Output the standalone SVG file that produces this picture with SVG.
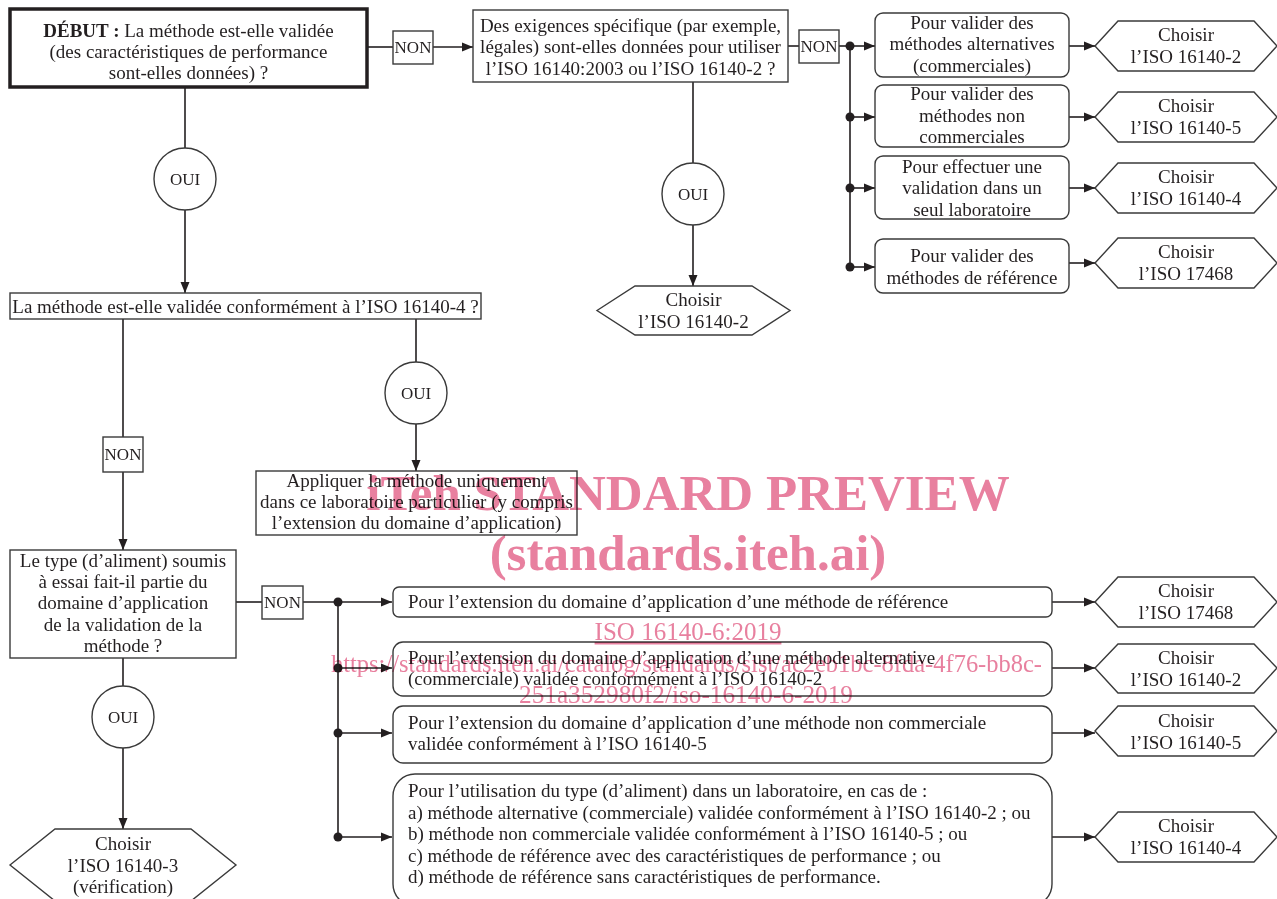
<svg xmlns="http://www.w3.org/2000/svg" width="1277" height="899" viewBox="0 0 1277 899">
<style>
text{font-family:"Liberation Serif","DejaVu Serif",serif;font-size:19px;fill:#231f20}
.c{text-anchor:middle}
.lbl{font-size:17px}
.box{fill:#fff;stroke:#3a3a3a;stroke-width:1.4}
.start{fill:#fff;stroke:#231f20;stroke-width:3.5}
.conn line{stroke:#231f20;stroke-width:1.6}
.dot{fill:#231f20}
text.wm1{font-family:"Liberation Serif",serif;fill:#e8809f;font-size:51px;font-weight:bold}
text.wm2{font-family:"Liberation Serif",serif;fill:#e8809f;font-size:25px}
</style>
<defs>
<marker id="ah" markerUnits="userSpaceOnUse" markerWidth="11" markerHeight="10" refX="11" refY="5" orient="auto">
<path d="M0,0.5 L11,5 L0,9.5 z" fill="#231f20"/>
</marker>
</defs>
<rect width="1277" height="899" fill="#fff"/>

<g id="connectors" class="conn">
<line x1="367" y1="47" x2="393" y2="47"/>
<line x1="433" y1="47" x2="473" y2="47" marker-end="url(#ah)"/>
<line x1="185" y1="87" x2="185" y2="148"/>
<line x1="185" y1="210" x2="185" y2="293" marker-end="url(#ah)"/>
<line x1="788" y1="46" x2="799" y2="46"/>
<line x1="839" y1="46" x2="850" y2="46"/>
<line x1="850" y1="46" x2="850" y2="267"/>
<line x1="850" y1="46" x2="875" y2="46" marker-end="url(#ah)"/>
<line x1="850" y1="117" x2="875" y2="117" marker-end="url(#ah)"/>
<line x1="850" y1="188" x2="875" y2="188" marker-end="url(#ah)"/>
<line x1="850" y1="267" x2="875" y2="267" marker-end="url(#ah)"/>
<circle class="dot" cx="850" cy="46" r="4.5"/>
<circle class="dot" cx="850" cy="117" r="4.5"/>
<circle class="dot" cx="850" cy="188" r="4.5"/>
<circle class="dot" cx="850" cy="267" r="4.5"/>
<line x1="1069" y1="46" x2="1095" y2="46" marker-end="url(#ah)"/>
<line x1="1069" y1="117" x2="1095" y2="117" marker-end="url(#ah)"/>
<line x1="1069" y1="188" x2="1095" y2="188" marker-end="url(#ah)"/>
<line x1="1069" y1="263" x2="1095" y2="263" marker-end="url(#ah)"/>
<line x1="693" y1="82" x2="693" y2="163"/>
<line x1="693" y1="225" x2="693" y2="286" marker-end="url(#ah)"/>
<line x1="123" y1="319" x2="123" y2="437"/>
<line x1="123" y1="472" x2="123" y2="550" marker-end="url(#ah)"/>
<line x1="416" y1="319" x2="416" y2="362"/>
<line x1="416" y1="424" x2="416" y2="471" marker-end="url(#ah)"/>
<line x1="236" y1="602" x2="262" y2="602"/>
<line x1="303" y1="602" x2="338" y2="602"/>
<line x1="338" y1="602" x2="338" y2="837"/>
<line x1="338" y1="602" x2="392" y2="602" marker-end="url(#ah)"/>
<line x1="338" y1="668" x2="392" y2="668" marker-end="url(#ah)"/>
<line x1="338" y1="733" x2="392" y2="733" marker-end="url(#ah)"/>
<line x1="338" y1="837" x2="392" y2="837" marker-end="url(#ah)"/>
<circle class="dot" cx="338" cy="602" r="4.5"/>
<circle class="dot" cx="338" cy="668" r="4.5"/>
<circle class="dot" cx="338" cy="733" r="4.5"/>
<circle class="dot" cx="338" cy="837" r="4.5"/>
<line x1="1052" y1="602" x2="1095" y2="602" marker-end="url(#ah)"/>
<line x1="1052" y1="668" x2="1095" y2="668" marker-end="url(#ah)"/>
<line x1="1052" y1="733" x2="1095" y2="733" marker-end="url(#ah)"/>
<line x1="1052" y1="837" x2="1095" y2="837" marker-end="url(#ah)"/>
<line x1="123" y1="658" x2="123" y2="686"/>
<line x1="123" y1="748" x2="123" y2="829" marker-end="url(#ah)"/>
</g>

<g id="start">
<rect class="start" x="10" y="9" width="357" height="78"/>
<text class="c" x="188.5" y="37"><tspan font-weight="bold">DÉBUT :</tspan> La méthode est-elle validée</text>
<text class="c" x="188.5" y="58">(des caractéristiques de performance</text>
<text class="c" x="188.5" y="79">sont-elles données) ?</text>
</g>

<g id="non1">
<rect class="box" x="393" y="31" width="40" height="33"/>
<text class="c lbl" x="413" y="53">NON</text>
</g>

<g id="q2">
<rect class="box" x="473" y="10" width="315" height="72"/>
<text class="c" x="630.5" y="32">Des exigences spécifique (par exemple,</text>
<text class="c" x="630.5" y="53">légales) sont-elles données pour utiliser</text>
<text class="c" x="630.5" y="75">l’ISO 16140:2003 ou l’ISO 16140-2 ?</text>
</g>

<g id="non2">
<rect class="box" x="799" y="30" width="40" height="33"/>
<text class="c lbl" x="819" y="52">NON</text>
</g>

<g id="r1">
<rect class="box" x="875" y="13" width="194" height="64" rx="8"/>
<text class="c" x="972" y="29">Pour valider des</text>
<text class="c" x="972" y="50">méthodes alternatives</text>
<text class="c" x="972" y="72">(commerciales)</text>
</g>
<g id="r2">
<rect class="box" x="875" y="85" width="194" height="62" rx="8"/>
<text class="c" x="972" y="100">Pour valider des</text>
<text class="c" x="972" y="122">méthodes non</text>
<text class="c" x="972" y="143">commerciales</text>
</g>
<g id="r3">
<rect class="box" x="875" y="156" width="194" height="63" rx="8"/>
<text class="c" x="972" y="173">Pour effectuer une</text>
<text class="c" x="972" y="194">validation dans un</text>
<text class="c" x="972" y="216">seul laboratoire</text>
</g>
<g id="r4">
<rect class="box" x="875" y="239" width="194" height="54" rx="8"/>
<text class="c" x="972" y="262">Pour valider des</text>
<text class="c" x="972" y="284">méthodes de référence</text>
</g>

<g id="h1">
<polygon class="box" points="1095,46 1118,21 1254,21 1277,46 1254,71 1118,71"/>
<text class="c" x="1186" y="41">Choisir</text>
<text class="c" x="1186" y="63">l’ISO 16140-2</text>
</g>
<g id="h2">
<polygon class="box" points="1095,117 1118,92 1254,92 1277,117 1254,142 1118,142"/>
<text class="c" x="1186" y="112">Choisir</text>
<text class="c" x="1186" y="134">l’ISO 16140-5</text>
</g>
<g id="h3">
<polygon class="box" points="1095,188 1118,163 1254,163 1277,188 1254,213 1118,213"/>
<text class="c" x="1186" y="183">Choisir</text>
<text class="c" x="1186" y="205">l’ISO 16140-4</text>
</g>
<g id="h4">
<polygon class="box" points="1095,263 1118,238 1254,238 1277,263 1254,288 1118,288"/>
<text class="c" x="1186" y="258">Choisir</text>
<text class="c" x="1186" y="280">l’ISO 17468</text>
</g>

<g id="oui1">
<circle class="box" cx="185" cy="179" r="31"/>
<text class="c lbl" x="185" y="185">OUI</text>
</g>
<g id="oui2">
<circle class="box" cx="693" cy="194" r="31"/>
<text class="c lbl" x="693" y="200">OUI</text>
</g>
<g id="hmid">
<polygon class="box" points="597,310.5 635,286 752,286 790,310.5 752,335 635,335"/>
<text class="c" x="693.5" y="306">Choisir</text>
<text class="c" x="693.5" y="328">l’ISO 16140-2</text>
</g>

<g id="q3">
<rect class="box" x="10" y="293" width="471" height="26"/>
<text class="c" x="245.5" y="313">La méthode est-elle validée conformément à l’ISO 16140-4 ?</text>
</g>

<g id="non3">
<rect class="box" x="103" y="437" width="40" height="35"/>
<text class="c lbl" x="123" y="460">NON</text>
</g>
<g id="oui3">
<circle class="box" cx="416" cy="393" r="31"/>
<text class="c lbl" x="416" y="399">OUI</text>
</g>
<g id="apply">
<rect class="box" x="256" y="471" width="321" height="64"/>
<text class="c" x="416.5" y="487">Appliquer la méthode uniquement</text>
<text class="c" x="416.5" y="508">dans ce laboratoire particulier (y compris</text>
<text class="c" x="416.5" y="529">l’extension du domaine d’application)</text>
</g>

<g id="q4">
<rect class="box" x="10" y="550" width="226" height="108"/>
<text class="c" x="123" y="567">Le type (d’aliment) soumis</text>
<text class="c" x="123" y="588">à essai fait-il partie du</text>
<text class="c" x="123" y="609">domaine d’application</text>
<text class="c" x="123" y="631">de la validation de la</text>
<text class="c" x="123" y="652">méthode ?</text>
</g>

<g id="non4">
<rect class="box" x="262" y="586" width="41" height="33"/>
<text class="c lbl" x="282.5" y="608">NON</text>
</g>

<g id="oui4">
<circle class="box" cx="123" cy="717" r="31"/>
<text class="c lbl" x="123" y="723">OUI</text>
</g>
<g id="h16140-3">
<polygon class="box" points="10,865 55,829 191,829 236,865 191,901 55,901"/>
<text class="c" x="123" y="850">Choisir</text>
<text class="c" x="123" y="872">l’ISO 16140-3</text>
<text class="c" x="123" y="893">(vérification)</text>
</g>

<g id="b1">
<rect class="box" x="393" y="587" width="659" height="30" rx="6"/>
<text x="408" y="608">Pour l’extension du domaine d’application d’une méthode de référence</text>
</g>
<g id="b2">
<rect class="box" x="393" y="642" width="659" height="54" rx="10"/>
<text x="408" y="664">Pour l’extension du domaine d’application d’une méthode alternative</text>
<text x="408" y="685">(commerciale) validée conformément à l’ISO 16140-2</text>
</g>
<g id="b3">
<rect class="box" x="393" y="706" width="659" height="57" rx="10"/>
<text x="408" y="729">Pour l’extension du domaine d’application d’une méthode non commerciale</text>
<text x="408" y="750">validée conformément à l’ISO 16140-5</text>
</g>
<g id="b4">
<rect class="box" x="393" y="774" width="659" height="132" rx="22"/>
<text x="408" y="797">Pour l’utilisation du type (d’aliment) dans un laboratoire, en cas de :</text>
<text x="408" y="819">a) méthode alternative (commerciale) validée conformément à l’ISO 16140-2 ; ou</text>
<text x="408" y="840">b) méthode non commerciale validée conformément à l’ISO 16140-5 ; ou</text>
<text x="408" y="862">c) méthode de référence avec des caractéristiques de performance ; ou</text>
<text x="408" y="883">d) méthode de référence sans caractéristiques de performance.</text>
</g>

<g id="hb1">
<polygon class="box" points="1095,602 1118,577 1254,577 1277,602 1254,627 1118,627"/>
<text class="c" x="1186" y="597">Choisir</text>
<text class="c" x="1186" y="619">l’ISO 17468</text>
</g>
<g id="hb2">
<polygon class="box" points="1095,668 1118,644 1254,644 1277,668 1254,693 1118,693"/>
<text class="c" x="1186" y="664">Choisir</text>
<text class="c" x="1186" y="686">l’ISO 16140-2</text>
</g>
<g id="hb3">
<polygon class="box" points="1095,731 1118,706 1254,706 1277,731 1254,756 1118,756"/>
<text class="c" x="1186" y="727">Choisir</text>
<text class="c" x="1186" y="749">l’ISO 16140-5</text>
</g>
<g id="hb4">
<polygon class="box" points="1095,837 1118,812 1254,812 1277,837 1254,862 1118,862"/>
<text class="c" x="1186" y="832">Choisir</text>
<text class="c" x="1186" y="854">l’ISO 16140-4</text>
</g>

<g id="watermark" style="mix-blend-mode:multiply">
<text class="wm1 c" x="688" y="510">iTeh STANDARD PREVIEW</text>
<text class="wm1 c" x="688" y="570">(standards.iteh.ai)</text>
<text class="wm2 c" x="688" y="640" text-decoration="underline">ISO 16140-6:2019</text>
<text class="wm2" x="331" y="672" textLength="711" lengthAdjust="spacingAndGlyphs">https://standards.iteh.ai/catalog/standards/sist/ac2eb1bc-8fda-4f76-bb8c-</text>
<text class="wm2" x="519" y="703" textLength="334" lengthAdjust="spacingAndGlyphs">251a352980f2/iso-16140-6-2019</text>
</g>
</svg>
